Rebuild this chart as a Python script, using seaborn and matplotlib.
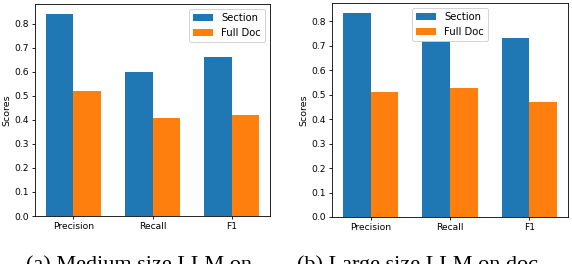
import matplotlib
matplotlib.use("Agg")
import matplotlib.pyplot as plt
import seaborn as sns
import pandas as pd

# Valores
categories = ['Precision', 'Recall', 'F1']
series_names = ['Section', 'Full Doc']
section_medium = [0.84, 0.60, 0.66]
fulldoc_medium = [0.518, 0.408, 0.421]
section_large = [0.833, 0.76, 0.732]
fulldoc_large = [0.509, 0.526, 0.472]
captions = ['(a) Medium size LLM on', '(b) Large size LLM on doc']

colors = ['#1f77b4', '#ff7f0e']


def build_df(section, fulldoc):
    return pd.DataFrame({
        'metric': categories * 2,
        'value': list(section) + list(fulldoc),
        'kind': [series_names[0]] * len(categories) + [series_names[1]] * len(categories),
    })


def draw(ax, df, legend_loc):
    sns.barplot(data=df, x='metric', y='value', hue='kind', order=categories,
                hue_order=series_names, palette=colors, saturation=1,
                width=0.7, errorbar=None, ax=ax)
    ax.set_xlim(-0.485, 2.485)
    ax.set_xlabel('')
    ax.set_ylabel('Scores', fontsize=6.8)
    ax.set_yticks([0.0, 0.1, 0.2, 0.3, 0.4, 0.5, 0.6, 0.7, 0.8])
    ax.tick_params(labelsize=6.6, length=2.5, width=0.6, pad=2)
    for s in ax.spines.values():
        s.set_linewidth(0.6)
    leg = ax.legend(loc=legend_loc, fontsize=7.2, frameon=True, framealpha=1)
    leg.get_frame().set_linewidth(0.6)


fig = plt.figure(figsize=(5.72, 2.64), dpi=100)
ax1 = fig.add_axes([35 / 572, 48 / 264, 235 / 572, 212 / 264])
ax2 = fig.add_axes([332 / 572, 47 / 264, 236 / 572, 214 / 264])

draw(ax1, build_df(section_medium, fulldoc_medium), 'upper right')
draw(ax2, build_df(section_large, fulldoc_large), 'upper center')
ax1.yaxis.labelpad = 2
ax2.yaxis.labelpad = 2

# Pies de figura (recortados por abajo, como en el original)
fig.text(139 / 572, -6 / 264, captions[0], ha='center', va='baseline',
         family='Liberation Serif', fontsize=16)
fig.text(297 / 572, -6 / 264, captions[1], ha='left', va='baseline',
         family='Liberation Serif', fontsize=16)

fig.savefig('out.png', dpi=100)
plt.close(fig)
